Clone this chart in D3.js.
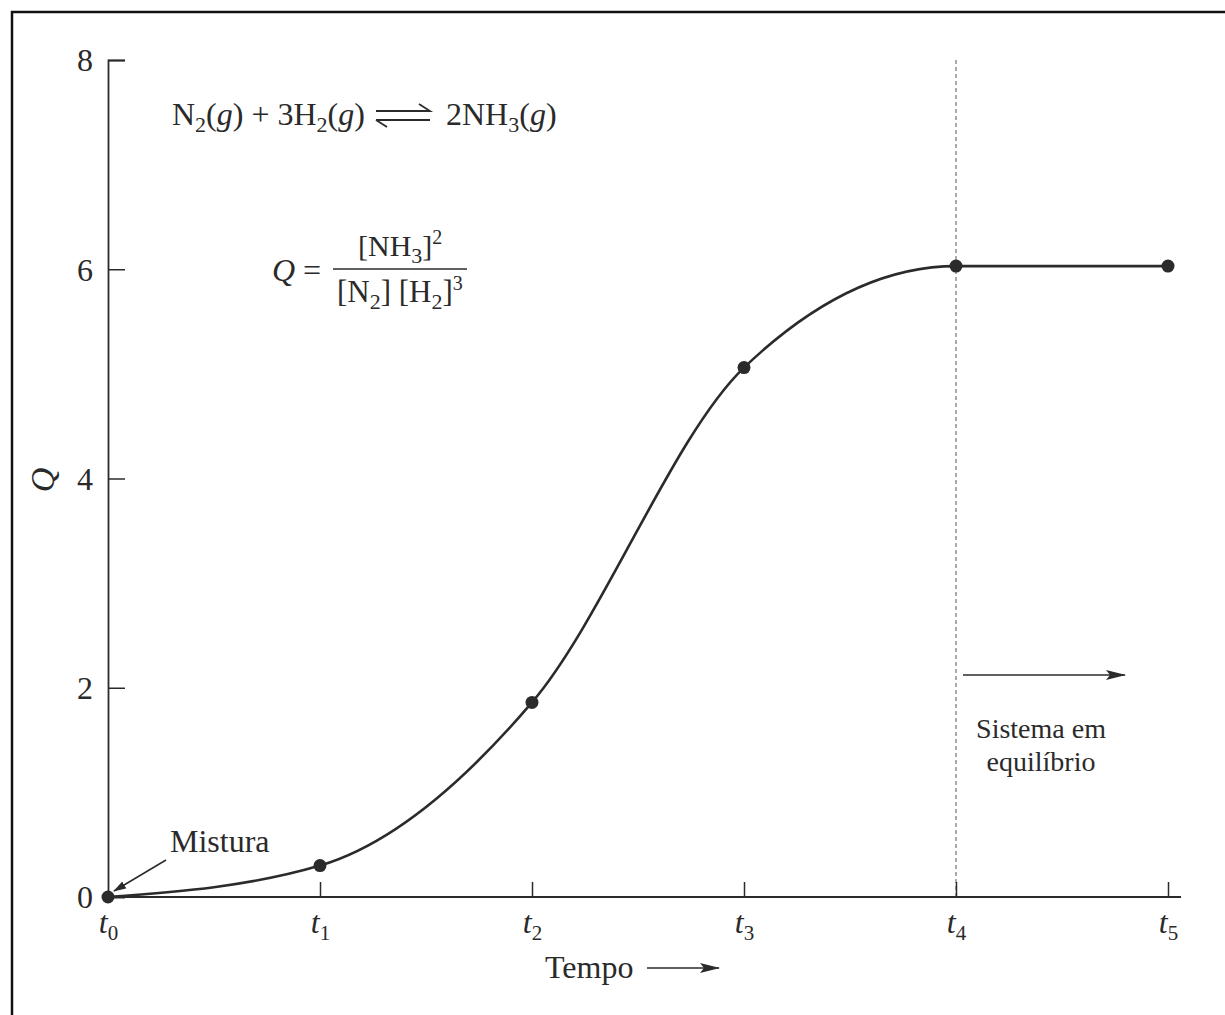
<!DOCTYPE html>
<html>
<head>
<meta charset="utf-8">
<script src="https://cdn.jsdelivr.net/npm/d3@7"></script>
<style>
  html, body { margin: 0; padding: 0; background: #fff; }
  svg { display: block; }
  text { font-family: "Liberation Serif", "Times New Roman", serif; fill: #2a2a2a; }
</style>
</head>
<body>
<svg id="chart" width="1225" height="1015"></svg>
<script>
// ---- data ----
const timeIndex = [0, 1, 2, 3, 4, 5];
const timeLabels = ["0", "1", "2", "3", "4", "5"]; // subscripts of t
const qValues = [0, 0.30, 1.86, 5.06, 6.03, 6.03];
const yTicks = [0, 2, 4, 6, 8];
const equilibriumIndex = 4;

const svg = d3.select("#chart");
const ink = "#2b2b2b";

// frame
svg.append("path")
  .attr("d", "M12,1015 L12,12 L1225,12")
  .attr("fill", "none").attr("stroke", "#111").attr("stroke-width", 2.5);

const x = d3.scaleLinear().domain([0, 5]).range([108, 1168]);
const y = d3.scaleLinear().domain([0, 8]).range([897, 60]);

// arrowheads
const defs = svg.append("defs");
defs.append("marker").attr("id", "arr").attr("viewBox", "0 0 20 12")
  .attr("refX", 19).attr("refY", 6).attr("markerWidth", 20).attr("markerHeight", 12)
  .attr("markerUnits", "userSpaceOnUse").attr("orient", "auto")
  .append("path").attr("d", "M0,1 L20,6 L0,11 L4,6 Z").attr("fill", ink);
defs.append("marker").attr("id", "arrSmall").attr("viewBox", "0 0 13 9")
  .attr("refX", 12).attr("refY", 4.5).attr("markerWidth", 13).attr("markerHeight", 9)
  .attr("markerUnits", "userSpaceOnUse").attr("orient", "auto")
  .append("path").attr("d", "M0,0.5 L13,4.5 L0,8.5 Z").attr("fill", ink);

// dashed equilibrium line
svg.append("line")
  .attr("x1", x(equilibriumIndex)).attr("x2", x(equilibriumIndex))
  .attr("y1", y(8)).attr("y2", y(0))
  .attr("stroke", "#555").attr("stroke-width", 1).attr("stroke-dasharray", "4,3");

// y axis
const yAxis = svg.append("g").attr("transform", `translate(${x(0)},0)`)
  .call(d3.axisLeft(y).tickValues(yTicks).tickSize(-17).tickPadding(15).tickFormat(d3.format("d")));
yAxis.select(".domain").attr("stroke", ink).attr("stroke-width", 1.8);
yAxis.selectAll(".tick line").attr("stroke", ink).attr("stroke-width", 1.5)
  .filter(d => d === 0).remove();
yAxis.selectAll(".tick text").style("font-size", "32px").style("font-family", "Liberation Serif, serif")
  .attr("fill", ink).attr("dy", "0.34em");

// x axis
const xAxis = svg.append("g").attr("transform", `translate(0,${y(0)})`)
  .call(d3.axisBottom(x).tickValues(timeIndex).tickSize(-15).tickSizeOuter(0).tickPadding(31));
xAxis.select(".domain").remove();
xAxis.append("line").attr("x1", x(0)).attr("x2", 1181).attr("y1", 0).attr("y2", 0)
  .attr("stroke", ink).attr("stroke-width", 1.8);
xAxis.selectAll(".tick line").attr("stroke", ink).attr("stroke-width", 1.5)
  .filter(d => d === 0).remove();
xAxis.selectAll(".tick text").each(function(d, i) {
  const t = d3.select(this);
  t.text(null).attr("fill", ink).style("font-family", "Liberation Serif, serif").attr("dy", "0.5em");
  t.append("tspan").text("t").style("font-style", "italic").style("font-size", "32px");
  t.append("tspan").text(timeLabels[i]).style("font-size", "21px").attr("dy", "7");
});

// y label
svg.append("text").attr("transform", "translate(42,480) rotate(-90)")
  .attr("text-anchor", "middle").attr("dy", "0.35em")
  .style("font-size", "34px").style("font-style", "italic").text("Q");

// curve
const line = d3.line().x((d, i) => x(timeIndex[i])).y(d => y(d)).curve(d3.curveMonotoneX);
svg.append("path").datum(qValues).attr("d", line)
  .attr("fill", "none").attr("stroke", ink).attr("stroke-width", 2.6);

svg.selectAll("circle.pt").data(qValues).join("circle").attr("class", "pt")
  .attr("cx", (d, i) => x(timeIndex[i])).attr("cy", d => y(d)).attr("r", 6.5).attr("fill", ink);

// Mistura annotation
svg.append("text").attr("x", 170).attr("y", 852).style("font-size", "32px").text("Mistura");
svg.append("line").attr("x1", 166).attr("y1", 860).attr("x2", 114).attr("y2", 891)
  .attr("stroke", ink).attr("stroke-width", 1.5).attr("marker-end", "url(#arrSmall)");

// Sistema em equilíbrio
svg.append("line").attr("x1", 963).attr("x2", 1125).attr("y1", 675).attr("y2", 675)
  .attr("stroke", ink).attr("stroke-width", 1.6).attr("marker-end", "url(#arr)");
svg.append("text").attr("x", 1041).attr("y", 738).attr("text-anchor", "middle")
  .style("font-size", "28px").text("Sistema em");
svg.append("text").attr("x", 1041).attr("y", 771).attr("text-anchor", "middle")
  .style("font-size", "28px").text("equilíbrio");

// Tempo
svg.append("text").attr("x", 545).attr("y", 978).style("font-size", "32px").text("Tempo");
svg.append("line").attr("x1", 647).attr("x2", 719).attr("y1", 968).attr("y2", 968)
  .attr("stroke", ink).attr("stroke-width", 1.6).attr("marker-end", "url(#arr)");

// reaction equation
function sub(t, s) { t.append("tspan").text(s).style("font-size", "22px").attr("dy", "7"); }
function back(t, s) { return t.append("tspan").text(s).attr("dy", "-7"); }
const eq1 = svg.append("text").attr("x", 172).attr("y", 125).style("font-size", "32px");
eq1.append("tspan").text("N");
sub(eq1, "2");
back(eq1, "(");
eq1.append("tspan").text("g").style("font-style", "italic");
eq1.append("tspan").text(") + 3H");
sub(eq1, "2");
back(eq1, "(");
eq1.append("tspan").text("g").style("font-style", "italic");
eq1.append("tspan").text(")");

// equilibrium harpoons
svg.append("path").attr("d", "M376,111 L430,111 L419,104 M376,120 L430,120 M376,120 L387,127")
  .attr("fill", "none").attr("stroke", ink).attr("stroke-width", 1.8);

const eq2 = svg.append("text").attr("x", 446).attr("y", 125).style("font-size", "32px");
eq2.append("tspan").text("2NH");
sub(eq2, "3");
back(eq2, "(");
eq2.append("tspan").text("g").style("font-style", "italic");
eq2.append("tspan").text(")");

// Q expression
svg.append("text").attr("x", 272).attr("y", 281).style("font-size", "32px")
  .append("tspan").text("Q").style("font-style", "italic");
svg.append("text").attr("x", 303).attr("y", 281).style("font-size", "32px").text("=");
svg.append("line").attr("x1", 333).attr("x2", 467).attr("y1", 269).attr("y2", 269)
  .attr("stroke", ink).attr("stroke-width", 1.5);
const num = svg.append("text").attr("x", 358).attr("y", 256).style("font-size", "30px");
num.append("tspan").text("[NH");
sub(num, "3");
num.append("tspan").text("]").attr("dy", "-7");
num.append("tspan").text("2").style("font-size", "20px").attr("dy", "-12");
const den = svg.append("text").attr("x", 337).attr("y", 302).style("font-size", "31px");
den.append("tspan").text("[N");
sub(den, "2");
den.append("tspan").text("] [H").attr("dy", "-7");
sub(den, "2");
den.append("tspan").text("]").attr("dy", "-7");
den.append("tspan").text("3").style("font-size", "20px").attr("dy", "-12");
</script>
</body>
</html>
